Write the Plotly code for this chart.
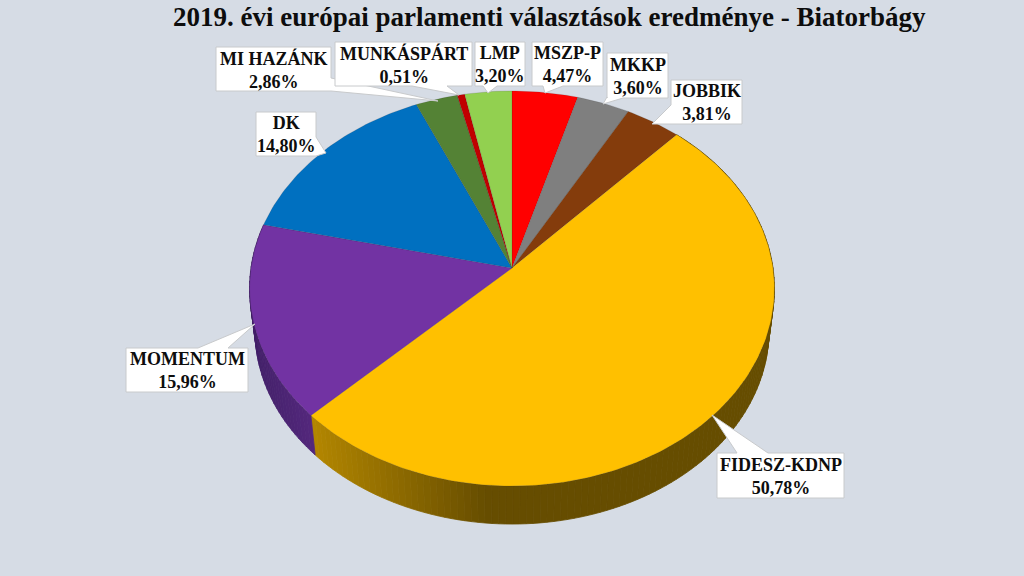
import numpy as np
import plotly.graph_objects as go

# --- data, clockwise from 12 o'clock ---
parties = ["MSZP-P", "MKKP", "JOBBIK", "FIDESZ-KDNP", "MOMENTUM", "DK", "MI HAZÁNK", "MUNKÁSPÁRT", "LMP"]
shares = [4.47, 3.60, 3.81, 50.78, 15.96, 14.80, 2.86, 0.51, 3.20]
title_text = "2019. évi európai parlamenti választások eredménye - Biatorbágy"

# --- styles ---
top_colors = ["#FF0000", "#7F7F7F", "#843C0C", "#FFC000", "#7233A3", "#0070C0", "#548235", "#C00000", "#92D050"]
BG = "#D6DCE5"
CX, CY = 512.0, 268.0
A, B, K = 261.0, 195.4, 0.1038      # perspective ellipse parameters
LOW_S, LOW_C = 0.979, 310.6         # lower rim: scale and centre y


def rim(frac):
    """Project a fraction of the circle (clockwise from top) on the tilted disc."""
    th = 2 * np.pi * np.asarray(frac)
    X, Y = np.sin(th), -np.cos(th)
    w = 1 - K * Y
    return A * X / w, B * Y / w


def side_color(name, x):
    if name == "FIDESZ-KDNP":
        t = float(np.clip((x - 312) / (490 - 312), 0, 1))
        c0, c1 = (180, 135, 0), (102, 77, 0)
    elif name == "MOMENTUM":
        t = float(np.clip((x - 250) / (315 - 250), 0, 1))
        c0, c1 = (66, 32, 104), (84, 40, 125)
    else:
        return "#444444"
    return "rgb(%d,%d,%d)" % tuple(round(a + (b - a) * t) for a, b in zip(c0, c1))


fig = go.Figure()


def poly(xs, ys, fill, line=None, width=0.0):
    fig.add_trace(go.Scatter(
        x=list(xs), y=list(ys), mode="lines", fill="toself", fillcolor=fill,
        line=dict(color=line or fill, width=width), hoverinfo="skip", showlegend=False))


total = sum(shares)
edges = np.cumsum([0.0] + shares) / total

# side wall: back slices first, FIDESZ and MOMENTUM are the only ones seen
for i, name in enumerate(parties):
    if name not in ("FIDESZ-KDNP", "MOMENTUM"):
        continue
    n = max(4, int((edges[i + 1] - edges[i]) * 260))
    f = np.linspace(edges[i], edges[i + 1], n + 1)
    dx, dy = rim(f)
    for j in range(n):
        xq = [CX + dx[j], CX + dx[j + 1], CX + LOW_S * dx[j + 1], CX + LOW_S * dx[j], CX + dx[j]]
        yq = [CY + dy[j], CY + dy[j + 1], LOW_C + LOW_S * dy[j + 1], LOW_C + LOW_S * dy[j], CY + dy[j]]
        poly(xq, yq, side_color(name, xq[0]), width=0.8)

# top face
for i, name in enumerate(parties):
    n = max(6, int((edges[i + 1] - edges[i]) * 400))
    f = np.linspace(edges[i], edges[i + 1], n + 1)
    dx, dy = rim(f)
    poly(np.r_[CX, CX + dx, CX], np.r_[CY, CY + dy, CY], top_colors[i], "rgba(40,40,40,0.35)", 0.4)

# callout labels: name -> (box x0, y0, x1, y1, edge, base1, base2, tip)
callouts = {
    "MOMENTUM": (126, 348, 248, 392, "top", (198, 348), (228, 348), (255, 324)),
    "FIDESZ-KDNP": (717, 453, 844, 498, "top", (737, 453), (768, 453), (712, 415)),
    "JOBBIK": (671, 80, 742, 124, "left", (671, 124), (671, 105), (652, 124)),
    "MKKP": (607, 53, 668, 98, "bottom", (623, 98), (607, 97), (603, 104)),
    "MSZP-P": (532, 42, 603, 86, "bottom", (563, 86), (543, 86), (545, 93)),
    "LMP": (475, 42, 525, 86, "bottom", (497, 86), (483, 86), (488, 93)),
    "MI HAZÁNK": (216, 47, 331, 91, "right", (331, 78), (331, 91), (438, 101)),
    "MUNKÁSPÁRT": (335, 42, 472, 86, "bottom", (447, 86), (412, 86), (459, 95)),
    "DK": (256, 112, 316, 156, "right", (316, 137), (316, 156), (326, 153)),
}
annotations = []
for name, (x0, y0, x1, y1, edge, b1, b2, tip) in callouts.items():
    wedge = [b1, tip, b2]
    pts = [(x0, y0)]
    if edge == "top":
        seq = sorted([b1, b2])
        pts += [seq[0], tip, seq[1]]
    pts.append((x1, y0))
    if edge == "right":
        pts += wedge
    pts.append((x1, y1))
    if edge == "bottom":
        pts += wedge
    pts.append((x0, y1))
    if edge == "left":
        pts += wedge
    pts.append((x0, y0))
    poly([p[0] for p in pts], [p[1] for p in pts], "#FFFFFF", "#C8CACC", 1.0)
    share = shares[parties.index(name)]
    annotations.append(dict(
        x=(x0 + x1) / 2, y=(y0 + y1) / 2 + 0.5, xref="x", yref="y", showarrow=False,
        text="<b>%s</b><br><b>%s%%</b>" % (name, f"{share:.2f}".replace(".", ",")),
        align="center", font=dict(family="Liberation Serif", size=18, color="#0D0D0D")))

annotations.append(dict(
    x=549, y=17, xref="x", yref="y", showarrow=False, text="<b>%s</b>" % title_text,
    font=dict(family="Liberation Serif", size=27, color="#0D0D0D")))

fig.update_layout(
    width=1024, height=576, margin=dict(l=0, r=0, t=0, b=0),
    paper_bgcolor=BG, plot_bgcolor=BG, showlegend=False, annotations=annotations,
    xaxis=dict(range=[0, 1024], visible=False, fixedrange=True),
    yaxis=dict(range=[576, 0], visible=False, fixedrange=True),
)
fig.write_html("out.html", config=dict(displayModeBar=False),
               post_script="document.body.style.margin='0';document.body.style.background='%s';" % BG)
